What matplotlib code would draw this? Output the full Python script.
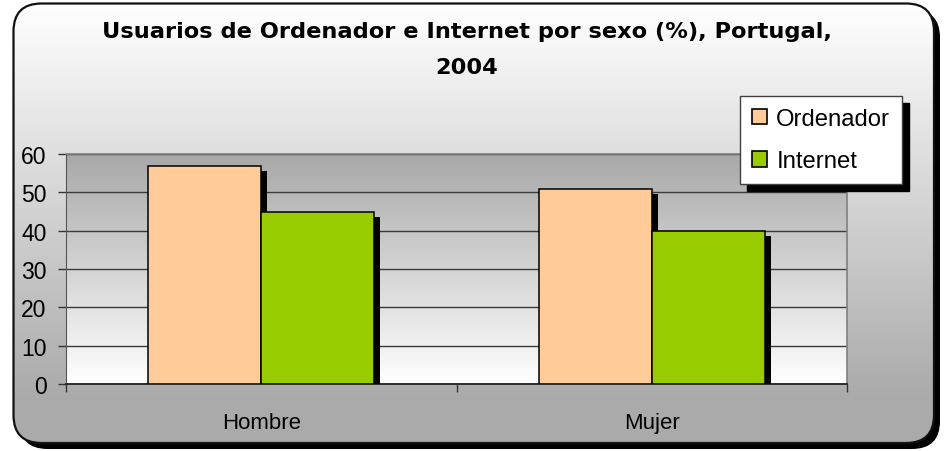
import numpy as np
import matplotlib
matplotlib.use('Agg')
import matplotlib.pyplot as plt
from matplotlib.patches import FancyBboxPatch, Patch
import matplotlib.patheffects as pe

categories = ['Hombre', 'Mujer']
series_names = ['Ordenador', 'Internet']
ordenador = [57, 51]
internet = [45, 40]
yticks = [0, 10, 20, 30, 40, 50, 60]
title = 'Usuarios de Ordenador e Internet por sexo (%), Portugal,\n2004'

colors = ['#FFCC99', '#99CC00']

plt.rcParams['font.family'] = ['Liberation Sans', 'DejaVu Sans']

W, H = 945, 452
fig = plt.figure(figsize=(W / 100, H / 100), dpi=100)

# ---- chart area background (rounded frame, gradient, shadow)
bg = fig.add_axes([0, 0, 1, 1], zorder=0)
bg.set_xlim(0, W)
bg.set_ylim(H, 0)
bg.axis('off')
fx0, fy0, fw, fh = 13.5, 4.5, 920.5, 439.5
shadow = FancyBboxPatch((fx0 + 6, fy0 + 6), fw, fh,
                        boxstyle='round,pad=0,rounding_size=28',
                        fc='black', ec='none', zorder=0)
bg.add_patch(shadow)
frame = FancyBboxPatch((fx0, fy0), fw, fh,
                       boxstyle='round,pad=0,rounding_size=28',
                       fc='none', ec='#111111', lw=1.6, zorder=3)
bg.add_patch(frame)
t = np.linspace(0, 1, 300)
v = 1.0 - np.clip(t / 0.9, 0, 1) * (1 - 0.667)
img = np.dstack([v, v, v]).reshape(-1, 1, 3)
im = bg.imshow(img, extent=(fx0, fx0 + fw, fy0 + fh, fy0), aspect='auto',
               zorder=1, interpolation='bilinear')
im.set_clip_path(frame)

# ---- plot area
ax = fig.add_axes([66 / W, (H - 385) / H, 781 / W, 230 / H], zorder=1)
ax.set_facecolor('none')
t2 = np.linspace(0, 1, 300)
v2 = 0.66 + (1 - 0.66) * t2
img2 = np.dstack([v2, v2, v2]).reshape(-1, 1, 3)
ax.imshow(img2, extent=(0, 1, 0, 1), transform=ax.transAxes, aspect='auto',
          zorder=0, interpolation='bilinear')

x = np.arange(len(categories))
w = 0.289
fx = [pe.SimplePatchShadow(offset=(4.3, -3.6), shadow_rgbFace='black', alpha=1.0),
      pe.Normal()]
for i in range(len(categories)):
    ax.bar(x[i] - w / 2, ordenador[i], w, color=colors[0], edgecolor='black',
           lw=1.1, zorder=3, path_effects=fx)
    ax.bar(x[i] + w / 2, internet[i], w, color=colors[1], edgecolor='black',
           lw=1.1, zorder=3, path_effects=fx)

ax.set_xlim(-0.5, len(categories) - 0.5)
ax.set_ylim(0, 60)
ax.set_yticks(yticks)
ax.set_yticklabels([str(v) for v in yticks])
ax.set_xticks(x)
ax.set_xticklabels(categories)
ax.set_xticks(np.arange(-0.5, len(categories), 1.0), minor=True)
ax.set_axisbelow(True)
ax.yaxis.grid(True, color='#3a3a3a', lw=1.0)
ax.tick_params(axis='y', which='major', length=6, width=1, color='#333333',
               labelsize=16.5, pad=8)
ax.tick_params(axis='x', which='major', length=0, labelsize=16, pad=20)
ax.tick_params(axis='x', which='minor', length=6, width=1, color='#333333')
for s in ['top', 'right']:
    ax.spines[s].set_color('#808080')
    ax.spines[s].set_linewidth(1.2)
ax.spines['left'].set_color('#555555')
ax.spines['bottom'].set_color('#222222')
ax.spines['bottom'].set_linewidth(1.3)

# ---- legend
handles = [Patch(facecolor=c, edgecolor='black', lw=1.2) for c in colors]
leg = fig.legend(handles, series_names, loc='upper left',
                 bbox_to_anchor=(740 / W, 1 - 97 / H), fontsize=17.2,
                 frameon=True, fancybox=False,
                 shadow={'color': 'black', 'alpha': 1.0, 'ox': 5, 'oy': -5},
                 borderaxespad=0, handlelength=0.62, handleheight=0.62,
                 handletextpad=0.4, labelspacing=0.85, borderpad=0.5,
                 framealpha=1)
leg.get_frame().set_edgecolor('#404040')
leg.get_frame().set_linewidth(1.0)
leg.get_frame().set_facecolor('white')

# ---- title
fig.text(467 / W, 1 - 50 / H, title, ha='center', va='center',
         fontsize=16.2, fontweight='bold', linespacing=2.05,
         family=['DejaVu Sans'])

fig.savefig('out.png', dpi=100)
